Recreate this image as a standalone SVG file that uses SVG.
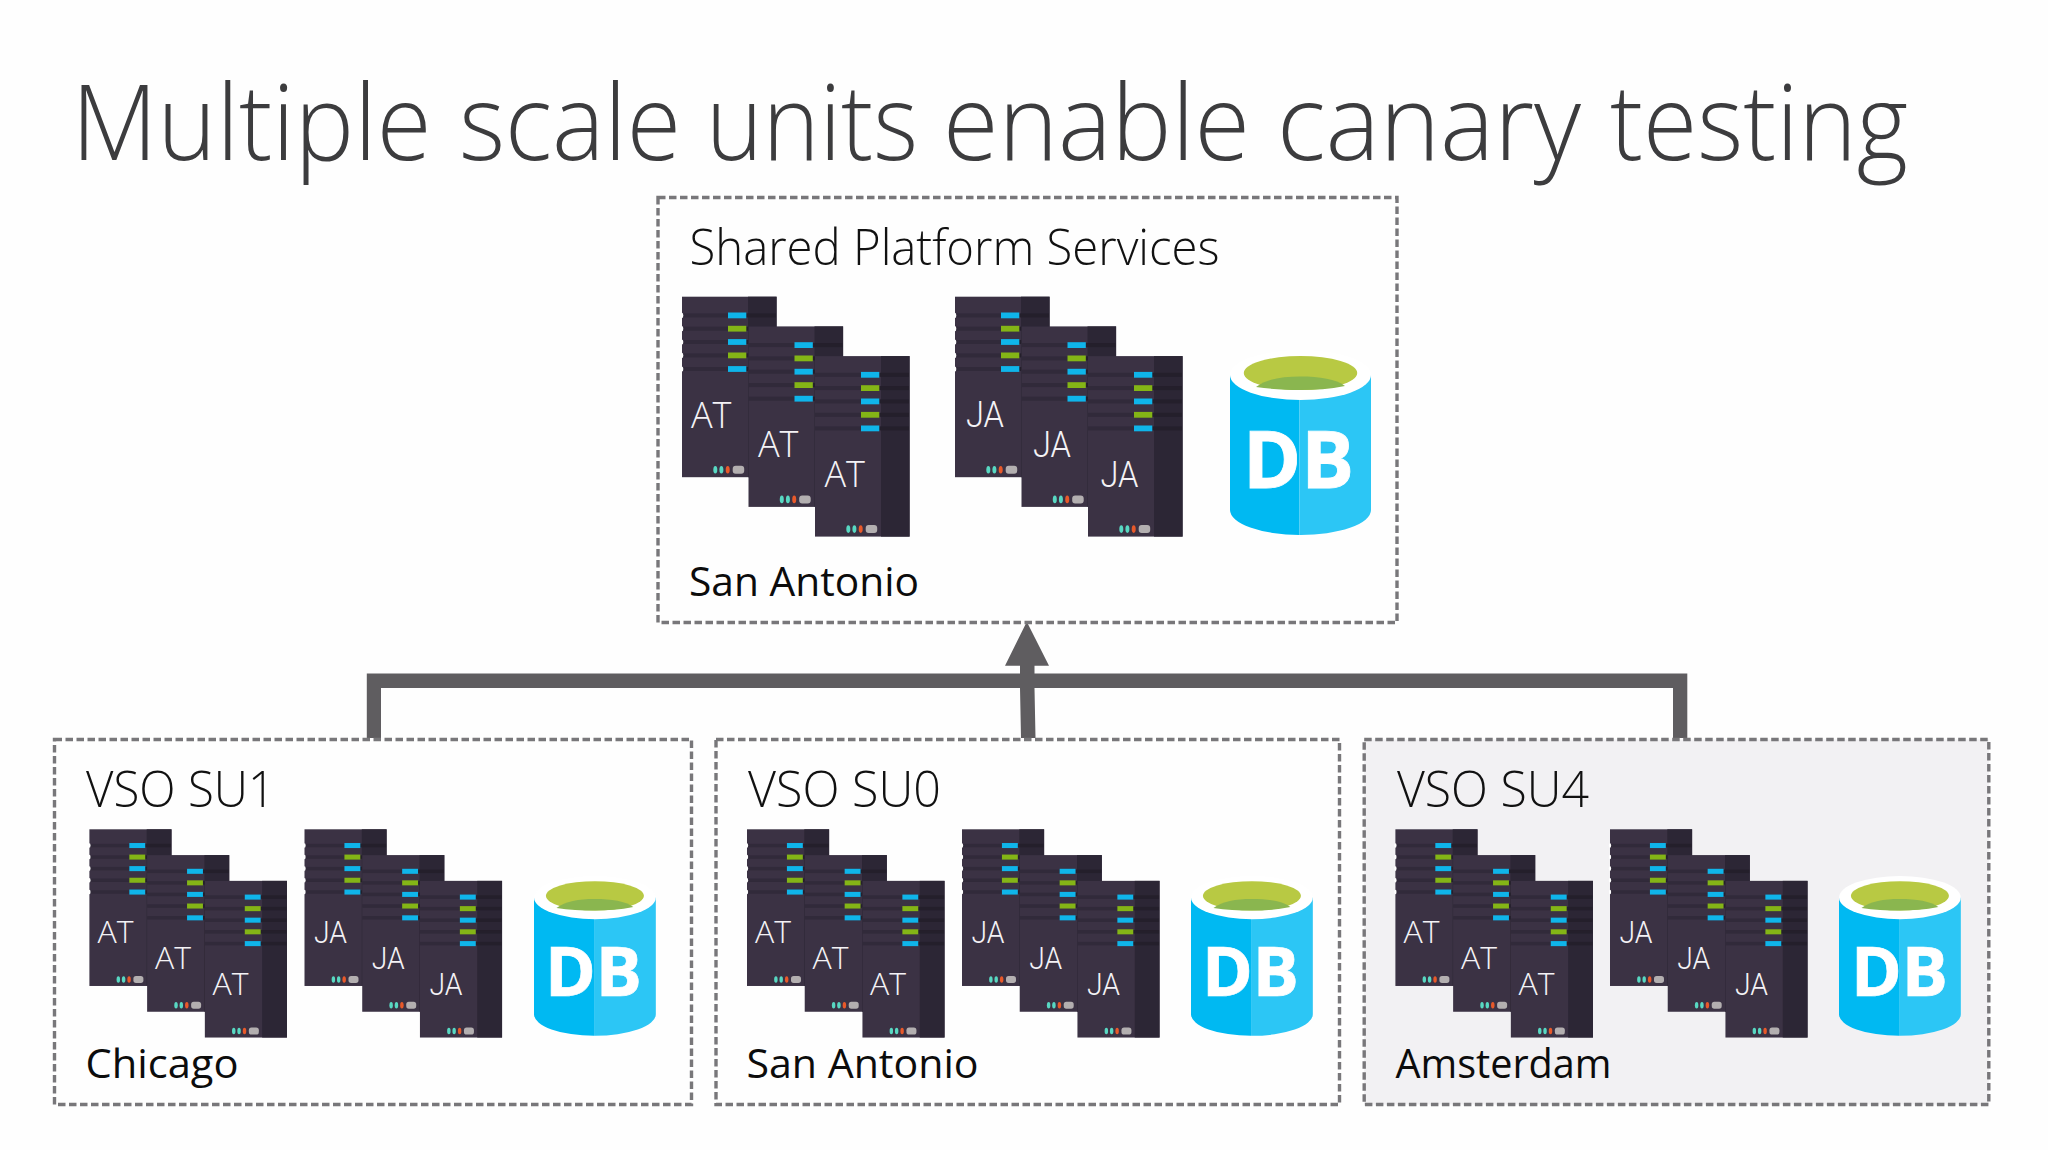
<svg xmlns="http://www.w3.org/2000/svg" width="2048" height="1150" viewBox="0 0 2048 1150">
<style>
text{font-family:"Open Sans","Noto Sans","Liberation Sans",sans-serif}
.title{font-size:106px;font-weight:300;fill:#3c3c3e}
.head{font-size:49px;font-weight:300;fill:#111}
.loc{font-size:40px;font-weight:400;fill:#0c0c0c}
.big{font-size:36px;font-weight:300;fill:#f4f2f6}
.small{font-size:32px;font-weight:300;fill:#f4f2f6}
.ja{font-family:Roboto,"Open Sans",sans-serif}
.dbb{font-size:78px;font-weight:700;fill:#fff;stroke:#fff;stroke-width:.8}
.dbs{font-size:68px;font-weight:700;fill:#fff;stroke:#fff;stroke-width:.7}
.box{fill:#fefefe;stroke:#78777a;stroke-width:3.4;stroke-dasharray:7.500 3.500}
.alt{fill:#f2f1f3}
.link{fill:#5f5d60}
</style>
<defs>
<g id="srv">
<rect width="94.6" height="180.5" fill="#3b3244"/>
<rect x="66" width="28.6" height="180.5" fill="#2c2635"/>
<g fill="#312a3a"><rect y="16.700" width="48" height="4"/><rect y="30" width="48" height="4"/><rect y="43.300" width="48" height="4"/><rect y="56.700" width="48" height="4"/><rect y="70.300" width="48" height="4"/></g>
<g fill="#241f2b"><rect x="64" y="16.700" width="30" height="4"/><rect x="64" y="30" width="30" height="4"/><rect x="64" y="43.300" width="30" height="4"/><rect x="64" y="56.700" width="30" height="4"/><rect x="64" y="70.300" width="30" height="4"/></g>
<rect x="46" y="15.800" width="18.300" height="5.800" fill="#0fb5ea"/><rect x="46" y="29.100" width="18.300" height="5.800" fill="#84b516"/><rect x="46" y="42.400" width="18.300" height="5.800" fill="#0fb5ea"/><rect x="46" y="55.800" width="18.300" height="5.800" fill="#84b516"/><rect x="46" y="69.400" width="18.300" height="5.800" fill="#0fb5ea"/>
<ellipse cx="33.300" cy="173" rx="2" ry="3.800" fill="#58d8c2"/><ellipse cx="39.400" cy="173" rx="2" ry="3.800" fill="#58d8c2"/><ellipse cx="45.700" cy="173" rx="2" ry="3.800" fill="#e8592a"/>
<rect x="50.700" y="169" width="11.500" height="8" rx="3" fill="#b3afb0"/>
</g>
<g id="notch" fill="#fff"><ellipse cy="18.700" rx="1.300" ry="2.600"/><ellipse cy="32" rx="1.300" ry="2.600"/><ellipse cy="45.300" rx="1.300" ry="2.600"/><ellipse cy="58.700" rx="1.300" ry="2.600"/><ellipse cy="72.300" rx="1.300" ry="2.600"/></g>
<g id="stack">
<use href="#srv"/><use href="#notch"/>
<use href="#srv" x="66.500" y="29.700"/>
<use href="#srv" x="133" y="59.400"/>
</g>
<g id="can">
<path d="M0 25V160A70.500 25 0 0 0 69.500 185V25Z" fill="#00b9f2"/>
<path d="M69.500 25V185A70.500 25 0 0 0 141 160V25Z" fill="#2cc6f5"/>
<ellipse cx="70.500" cy="25" rx="70.500" ry="25" fill="#fff"/>
<ellipse cx="70.500" cy="23" rx="56.700" ry="17" fill="#b8c943"/>
<path d="M26 37C36 29 52 26.500 70 26.500C90 26.500 106 29 115 36C100 39 85 40 70.500 40C55 40 40 39 26 37Z" fill="#8ab64f"/>
</g>
</defs>
<rect width="2048" height="1150" fill="#fefefe"/>
<text class="title" y="160"><tspan x="71.500" textLength="360" lengthAdjust="spacingAndGlyphs">Multiple</tspan> <tspan x="459" textLength="222" lengthAdjust="spacingAndGlyphs">scale</tspan> <tspan x="706" textLength="212" lengthAdjust="spacingAndGlyphs">units</tspan> <tspan x="943" textLength="307" lengthAdjust="spacingAndGlyphs">enable</tspan> <tspan x="1277" textLength="304" lengthAdjust="spacingAndGlyphs">canary</tspan> <tspan x="1610" textLength="298" lengthAdjust="spacingAndGlyphs">testing</tspan></text>
<g id="connectors" class="link">
<path d="M366.800 738V673.500H1687.300V738H1673V688H1034.500L1035.500 738H1021L1020 688H381V738Z"/>
<path d="M1020 674V665.700H1005L1026.800 621.700L1049 665.700H1034.500V674Z"/>
</g>
<g id="shared-platform">
<rect class="box" x="658" y="197.500" width="739" height="425"/>
<text class="head" x="689.500" y="265" textLength="530" lengthAdjust="spacingAndGlyphs">Shared Platform Services</text>
<use href="#stack" x="682" y="296.700"/>
<text class="big" x="691" y="427.500">AT</text><text class="big" x="758" y="457">AT</text><text class="big" x="824.500" y="487">AT</text>
<use href="#stack" x="955" y="296.700"/>
<text class="big ja" x="966" y="427.300" textLength="38" lengthAdjust="spacingAndGlyphs">JA</text><text class="big ja" x="1033" y="456.700" textLength="38" lengthAdjust="spacingAndGlyphs">JA</text><text class="big ja" x="1100.500" y="486.700" textLength="38" lengthAdjust="spacingAndGlyphs">JA</text>
<use href="#can" x="1230" y="350"/>
<text class="dbb" x="1243" y="488" textLength="111" lengthAdjust="spacingAndGlyphs">DB</text>
<text class="loc" x="689" y="596" textLength="230" lengthAdjust="spacingAndGlyphs">San Antonio</text>
</g>
<g id="su1">
<rect class="box" x="54.500" y="739.500" width="637" height="365"/>
<text class="head" x="86" y="807.300" textLength="189" lengthAdjust="spacingAndGlyphs">VSO SU1</text>
<use href="#stack" transform="translate(89.400 829.300) scale(.868)"/>
<text class="small" x="97.500" y="942.700">AT</text><text class="small" x="155" y="968.500">AT</text><text class="small" x="212.500" y="994.500">AT</text>
<use href="#stack" transform="translate(304.500 829.300) scale(.868)"/>
<text class="small ja" x="314" y="942.700" textLength="33" lengthAdjust="spacingAndGlyphs">JA</text><text class="small ja" x="371.700" y="968.500" textLength="33" lengthAdjust="spacingAndGlyphs">JA</text><text class="small ja" x="429.500" y="994.500" textLength="33" lengthAdjust="spacingAndGlyphs">JA</text>
<use href="#can" transform="translate(534 876) scale(.864)"/>
<text class="dbs" x="545" y="996" textLength="97" lengthAdjust="spacingAndGlyphs">DB</text>
<text class="loc" x="85.500" y="1078.300" textLength="153" lengthAdjust="spacingAndGlyphs">Chicago</text>
</g>
<g id="su0">
<rect class="box" x="716" y="739.500" width="623.500" height="365"/>
<text class="head" x="748" y="807.300" textLength="193" lengthAdjust="spacingAndGlyphs">VSO SU0</text>
<use href="#stack" transform="translate(747 829.300) scale(.868)"/>
<text class="small" x="755" y="942.700">AT</text><text class="small" x="812.500" y="968.500">AT</text><text class="small" x="870" y="994.500">AT</text>
<use href="#stack" transform="translate(962 829.300) scale(.868)"/>
<text class="small ja" x="971.500" y="942.700" textLength="33" lengthAdjust="spacingAndGlyphs">JA</text><text class="small ja" x="1029.200" y="968.500" textLength="33" lengthAdjust="spacingAndGlyphs">JA</text><text class="small ja" x="1087" y="994.500" textLength="33" lengthAdjust="spacingAndGlyphs">JA</text>
<use href="#can" transform="translate(1191 876) scale(.864)"/>
<text class="dbs" x="1202" y="996" textLength="97" lengthAdjust="spacingAndGlyphs">DB</text>
<text class="loc" x="746.500" y="1078.300" textLength="232" lengthAdjust="spacingAndGlyphs">San Antonio</text>
</g>
<g id="su4">
<rect class="box alt" x="1364.200" y="739.500" width="624.600" height="365"/>
<text class="head" x="1397" y="807.300" textLength="192" lengthAdjust="spacingAndGlyphs">VSO SU4</text>
<use href="#stack" transform="translate(1395.400 829.300) scale(.868)"/>
<text class="small" x="1403.500" y="942.700">AT</text><text class="small" x="1461" y="968.500">AT</text><text class="small" x="1518.500" y="994.500">AT</text>
<use href="#stack" transform="translate(1610 829.300) scale(.868)"/>
<text class="small ja" x="1619.500" y="942.700" textLength="33" lengthAdjust="spacingAndGlyphs">JA</text><text class="small ja" x="1677.200" y="968.500" textLength="33" lengthAdjust="spacingAndGlyphs">JA</text><text class="small ja" x="1735" y="994.500" textLength="33" lengthAdjust="spacingAndGlyphs">JA</text>
<use href="#can" transform="translate(1839 876) scale(.864)"/>
<text class="dbs" x="1851" y="996" textLength="97" lengthAdjust="spacingAndGlyphs">DB</text>
<text class="loc" x="1395.500" y="1078.300" textLength="216" lengthAdjust="spacingAndGlyphs">Amsterdam</text>
</g>
</svg>
